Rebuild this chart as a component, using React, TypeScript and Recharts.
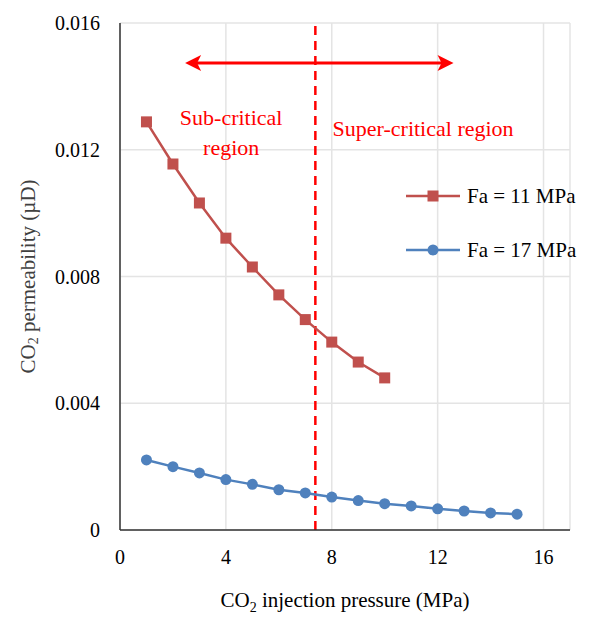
import React from 'react';
import {
  LineChart,
  Line,
  XAxis,
  YAxis,
  CartesianGrid,
  ReferenceLine,
  ReferenceDot,
} from 'recharts';

// CO2 injection pressure (MPa) and permeability (µD) for the two confining pressures
const pressureFa11 = [1, 2, 3, 4, 5, 6, 7, 8, 9, 10];
const permFa11 = [0.01288, 0.01155, 0.01032, 0.00921, 0.0083, 0.00742, 0.00664, 0.00593, 0.0053, 0.0048];

const pressureFa17 = [1, 2, 3, 4, 5, 6, 7, 8, 9, 10, 11, 12, 13, 14, 15];
const permFa17 = [
  0.00221, 0.002, 0.0018, 0.00159, 0.00144, 0.00127, 0.00117, 0.00104, 0.00093, 0.00083, 0.00076, 0.00067,
  0.0006, 0.00054, 0.0005,
];

const seriesNames = ['Fa = 11 MPa', 'Fa = 17 MPa'];
const xTicks = [0, 4, 8, 12, 16];
const yTicks = [0, 0.004, 0.008, 0.012, 0.016];

// critical pressure of CO2 and the span of the region arrow
const criticalPressure = 7.38;
const arrowFrom = 2.46;
const arrowTo = 12.6;
const arrowLevel = 0.01474;

const seriesFa11 = pressureFa11.map((p, i) => ({ p, k: permFa11[i] }));
const seriesFa17 = pressureFa17.map((p, i) => ({ p, k: permFa17[i] }));

const FONT = '"Liberation Serif", "Times New Roman", serif';
const RED = '#C0504D';
const BLUE = '#4F81BD';
const ANNOT = '#FF0000';

const SquareDot = (props: any) => {
  const { cx, cy } = props;
  if (cx == null || cy == null) return null;
  return <rect x={cx - 5.5} y={cy - 5.5} width={11} height={11} fill={RED} />;
};

const arrowHead = (dir: 1 | -1) => (props: any) => {
  const { cx, cy } = props;
  // dir = -1 points left, 1 points right
  const back = cx - dir * 16;
  const notch = cx - dir * 12;
  return (
    <path d={`M${cx},${cy} L${back},${cy - 8} L${notch},${cy} L${back},${cy + 8} Z`} fill={ANNOT} />
  );
};

const regionText = (lines: string[]) => (props: any) => {
  const { cx, cy } = props;
  return (
    <text x={cx} y={cy} textAnchor="middle" fill={ANNOT} fontFamily={FONT} fontSize={22}>
      {lines.map((l, i) => (
        <tspan key={i} x={cx} dy={i === 0 ? 0 : 30}>
          {l}
        </tspan>
      ))}
    </text>
  );
};

const LegendBox = () => (
  <div
    style={{
      position: 'absolute',
      left: 406,
      top: 183,
      fontFamily: FONT,
      fontSize: 21,
      color: '#000',
      whiteSpace: 'nowrap',
    }}
  >
    {seriesNames.map((name, i) => (
      <div key={name} style={{ display: 'flex', alignItems: 'center', height: 26, marginTop: i ? 28 : 0 }}>
        <svg width={56} height={16}>
          <line x1={0} y1={8} x2={54} y2={8} stroke={i ? BLUE : RED} strokeWidth={2.5} />
          {i ? (
            <circle cx={27} cy={8} r={5.5} fill={BLUE} />
          ) : (
            <rect x={21.5} y={2.5} width={11} height={11} fill={RED} />
          )}
        </svg>
        <span style={{ marginLeft: 5 }}>{name}</span>
      </div>
    ))}
  </div>
);

const YTitle = (props: any) => {
  const { viewBox } = props;
  const cx = 28;
  const cy = viewBox.y + viewBox.height / 2;
  return (
    <text
      x={cx}
      y={cy}
      transform={`rotate(-90, ${cx}, ${cy})`}
      textAnchor="middle"
      dominantBaseline="central"
      fill="#404040"
      fontFamily={FONT}
      fontSize={21}
    >
      <tspan>CO</tspan>
      <tspan dy={5} fontSize={14}>2</tspan>
      <tspan dy={-5}> permeability (µD)</tspan>
    </text>
  );
};

const XTitle = (props: any) => {
  const { viewBox } = props;
  const cx = viewBox.x + viewBox.width / 2;
  return (
    <text x={cx} y={607} textAnchor="middle" fill="#000" fontFamily={FONT} fontSize={21}>
      <tspan>CO</tspan>
      <tspan dy={5} fontSize={14}>2</tspan>
      <tspan dy={-5}> injection pressure (MPa)</tspan>
    </text>
  );
};

export default function App() {
  return (
    <div style={{ position: 'absolute', left: 0, top: 0, width: 589, height: 617, background: '#fff' }}>
      <LineChart width={589} height={617} margin={{ top: 23, right: 19, left: 0, bottom: 0 }}>
        <CartesianGrid stroke="#e4e4e4" strokeWidth={1.5} />
        <XAxis
          dataKey="p"
          type="number"
          domain={[0, 17]}
          ticks={xTicks}
          height={87}
          tickLine={false}
          axisLine={{ stroke: '#333', strokeWidth: 1.5 }}
          tickMargin={14}
          tick={{ fontFamily: FONT, fontSize: 20, fill: '#000' }}
          label={<XTitle />}
        />
        <YAxis
          type="number"
          domain={[0, 0.016]}
          ticks={yTicks}
          width={120}
          tickLine={false}
          axisLine={{ stroke: '#333', strokeWidth: 1.5 }}
          tickMargin={14}
          tickFormatter={(v: number) => (v === 0 ? '0' : v.toFixed(3))}
          tick={{ fontFamily: FONT, fontSize: 20, fill: '#000' }}
          label={<YTitle />}
        />
        <ReferenceLine x={criticalPressure} stroke={ANNOT} strokeWidth={2.5} strokeDasharray="9 6" />
        <ReferenceLine
          segment={[
            { x: arrowFrom + 0.3, y: arrowLevel },
            { x: arrowTo - 0.3, y: arrowLevel },
          ]}
          stroke={ANNOT}
          strokeWidth={3}
        />
        <ReferenceDot x={arrowFrom} y={arrowLevel} shape={arrowHead(-1)} />
        <ReferenceDot x={arrowTo} y={arrowLevel} shape={arrowHead(1)} />
        <ReferenceDot x={4.2} y={0.01277} shape={regionText(['Sub-critical', 'region'])} />
        <ReferenceDot x={11.45} y={0.01243} shape={regionText(['Super-critical region'])} />
        <Line
          data={seriesFa11}
          dataKey="k"
          name={seriesNames[0]}
          stroke={RED}
          strokeWidth={2.5}
          dot={<SquareDot />}
          isAnimationActive={false}
        />
        <Line
          data={seriesFa17}
          dataKey="k"
          name={seriesNames[1]}
          stroke={BLUE}
          strokeWidth={2.5}
          dot={{ r: 5.5, fill: BLUE, stroke: BLUE, strokeWidth: 0 }}
          isAnimationActive={false}
        />
      </LineChart>
      <LegendBox />
    </div>
  );
}
